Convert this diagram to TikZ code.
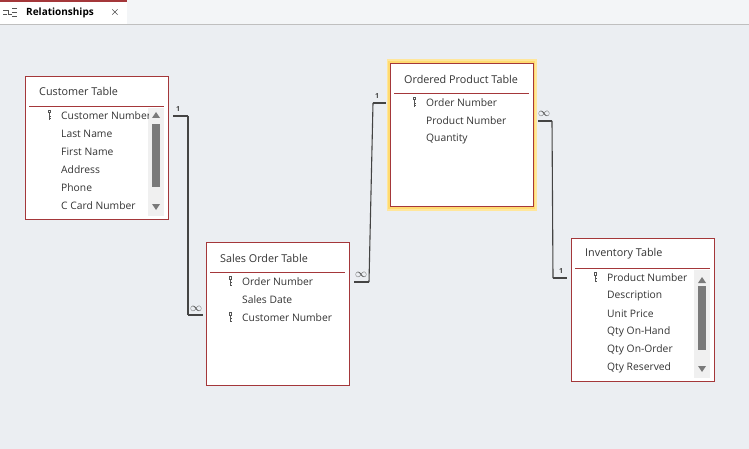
\documentclass[tikz,border=0pt]{standalone}
\usepackage{fontspec}
\setmainfont{Open Sans}
\begin{document}
\begin{tikzpicture}[x=1pt,y=-1pt,
  tbl/.style={draw=border,fill=white,line width=0.9pt,minimum width=143pt,minimum height=143pt,anchor=north west,inner sep=0},
  ttl/.style={anchor=west,font=\fontsize{10.8}{12}\selectfont,text=txt,inner sep=0},
  fld/.style={anchor=west,font=\fontsize{10.3}{12}\selectfont,text=txt,inner sep=0},
  sep/.style={draw=border,line width=0.7pt},
  lnk/.style={draw=linkc,line width=1.1pt},
  end/.style={draw=linkc,line width=2.6pt},
  card/.style={font=\bfseries\fontsize{7}{7}\selectfont,text=linkc,inner sep=0},
  many/.style={font=\fontsize{12}{12}\selectfont,text=linkc,inner sep=0},
  key/.style={fill=keyc}]
\definecolor{bg}{HTML}{EBEEF2}
\definecolor{border}{HTML}{A4373A}
\definecolor{txt}{HTML}{333333}
\definecolor{linkc}{HTML}{444444}
\definecolor{keyc}{HTML}{555555}
\definecolor{glow}{HTML}{FFDB70}
\definecolor{sbar}{HTML}{F0F0F0}
\definecolor{thumb}{HTML}{7A7A7A}
\useasboundingbox (0,0) rectangle (749,449);
\fill[bg] (0,0) rectangle (749,449);
% tab strip
\fill[bg!60!white] (0,0) rectangle (749,24);
\draw[gray!50] (0,24.5) -- (749,24.5);
\fill[white] (0,2) rectangle (127,24);
\fill[border] (0,0) rectangle (127,2.5);
\node[font=\fontsize{10}{11}\selectfont\bfseries,anchor=west,inner sep=0] (tab) at (26,13) {Relationships};
\node[font=\fontsize{13}{13}\selectfont,inner sep=0] (tabx) at (115,13) {$\times$};
\draw[keyc,line width=0.8pt] (3,10) -- (8,10) -- (8,14) -- (12,14) (3,14)--(7,14) (12,8)--(17,8) (12,12)--(17,12) (12,16)--(17,16);
% key icon macro
\newcommand{\mykey}[2]{\fill[keyc] (#1-1.5,#2-5) rectangle (#1+2,#2-1.5); \fill[keyc] (#1-0.5,#2-1.5) rectangle (#1+0.8,#2+5); \fill[keyc] (#1+0.8,#2+1) rectangle (#1+2,#2+2); \fill[keyc] (#1+0.8,#2+3.5) rectangle (#1+2,#2+4.5);\fill[white] (#1-0.2,#2-4) rectangle (#1+0.6,#2-2.5);}
% Customer
\node[tbl] (cust) at (25,76) {};
\node[ttl] (custT) at (39,91) {Customer Table};
\draw[sep] (29,106) -- (164,106);
\fill[sbar] (148,108) rectangle (164,216);
\fill[thumb] (152,124) rectangle (160,187);
\fill[thumb] (152,118) -- (160,118) -- (156,112) -- cycle;
\fill[thumb] (152,204) -- (160,204) -- (156,210) -- cycle;
\begin{scope}
\clip (29,107) rectangle (148,216);
\node[fld] (c1) at (61,116) {Customer Number};
\end{scope}
\node[fld] (c2) at (61,134) {Last Name};
\node[fld] (c3) at (61,152) {First Name};
\node[fld] (c4) at (61,170) {Address};
\node[fld] (c5) at (61,188) {Phone};
\node[fld] (c6) at (61,206) {C Card Number};
\mykey{49}{115}
% Sales
\node[tbl] (sales) at (206,242) {};
\node[ttl] (salesT) at (220,258) {Sales Order Table};
\draw[sep] (210,272) -- (345,272);
\node[fld] (s1) at (242,282) {Order Number};
\node[fld] (s2) at (242,300) {Sales Date};
\node[fld] (s3) at (242,318) {Customer Number};
\mykey{230}{281}\mykey{230}{317}
% Ordered product
\fill[glow!70!white] (386.5,59.5) rectangle (536.5,210.5);
\fill[glow] (388,61) rectangle (535,209);
\node[tbl] (ord) at (390,63) {};
\node[ttl] (ordT) at (404,79) {Ordered Product Table};
\draw[sep] (394,93) -- (529,93);
\node[fld] (o1) at (426,103) {Order Number};
\node[fld] (o2) at (426,121) {Product Number};
\node[fld] (o3) at (426,139) {Quantity};
\mykey{414}{102}
% Inventory
\node[tbl] (inv) at (571,238) {};
\node[ttl] (invT) at (585,254) {Inventory Table};
\draw[sep] (575,268) -- (710,268);
\fill[sbar] (694,270) rectangle (710,378);
\fill[thumb] (698,286) rectangle (706,350);
\fill[thumb] (698,283) -- (706,283) -- (702,277) -- cycle;
\fill[thumb] (698,366) -- (706,366) -- (702,372) -- cycle;
\node[fld] (i1) at (607,278) {Product Number};
\node[fld] (i2) at (607,296) {Description};
\node[fld] (i3) at (607,314) {Unit Price};
\node[fld] (i4) at (607,332) {Qty On-Hand};
\node[fld] (i5) at (607,350) {Qty On-Order};
\node[fld] (i6) at (607,368) {Qty Reserved};
\mykey{595}{277}
% connectors
\coordinate (a1) at (173,116); \coordinate (a2) at (188,116);
\coordinate (a3) at (188,315); \coordinate (a4) at (203,315);
\draw[end] (a1) -- (a2); \draw[lnk] (a2) -- (a3); \draw[end] (a3) -- (a4);
\node[card] (l1) at (178,109) {1};
\node[many] (l2) at (196,309) {$\infty$};
\coordinate (b1) at (354,282); \coordinate (b2) at (369,282);
\coordinate (b3) at (373,103); \coordinate (b4) at (386,103);
\draw[end] (b1) -- (b2); \draw[lnk] (b2) -- (b3); \draw[end] (b3) -- (b4);
\node[card] (l3) at (377,96) {1};
\node[many] (l4) at (361,275) {$\infty$};
\coordinate (d1) at (538,121); \coordinate (d2) at (552,121);
\coordinate (d3) at (553,278); \coordinate (d4) at (567,278);
\draw[end] (d1) -- (d2); \draw[lnk] (d2) -- (d3); \draw[end] (d3) -- (d4);
\node[many] (l5) at (544,114) {$\infty$};
\node[card] (l6) at (561,271) {1};
\end{tikzpicture}
\end{document}
